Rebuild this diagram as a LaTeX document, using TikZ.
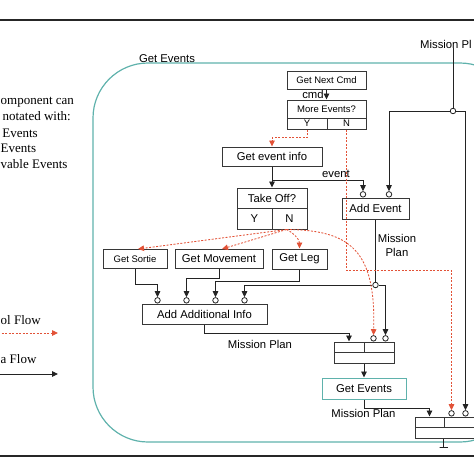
\documentclass[tikz,border=0pt]{standalone}
\usepackage{fontspec}
\setmainfont{Liberation Sans}
\newfontfamily\serifleg{Liberation Serif}
\usetikzlibrary{arrows.meta}
\definecolor{teal1}{RGB}{95,178,172}
\definecolor{ctrlc}{RGB}{226,82,55}
\definecolor{linec}{RGB}{35,35,35}
\definecolor{boxc}{RGB}{55,55,55}
\pgfdeclarelayer{fg}
\pgfsetlayers{main,fg}
\tikzset{
  box/.style={draw=boxc, line width=1pt, inner sep=0pt, font=\fontsize{11.3}{13}\selectfont},
  sbox/.style={box, font=\fontsize{9.5}{11}\selectfont},
  plain/.style={draw=linec, line width=0.9pt},
  data/.style={plain, -{Triangle[length=6pt,width=5.5pt]}},
  ctrl/.style={draw=ctrlc, line width=0.85pt, dash pattern=on 2pt off 1.5pt, -{Triangle[length=6pt,width=5.5pt,fill=ctrlc]}},
  port/.style={circle, draw=linec, line width=0.8pt, fill=white, inner sep=0pt, minimum size=5.5pt, anchor=south},
  junc/.style={circle, draw=linec, line width=0.8pt, fill=white, inner sep=0pt, minimum size=5.5pt},
  lbl/.style={inner sep=0pt, font=\fontsize{11.3}{14}\selectfont},
  leg/.style={inner sep=0pt, font=\serifleg\fontsize{13}{15}\selectfont, anchor=base east},
  legw/.style={leg, anchor=base west},
  rule/.style={draw=black!85, line width=1.4pt},
  frame/.style={draw=teal1, line width=1.2pt, rounded corners=55pt}
}
\begin{document}
\begin{tikzpicture}[x=1pt,y=-1pt]
\useasboundingbox (0,0) rectangle (474,474);
\clip (0,0) rectangle (474,474);

% horizontal rules
\draw[rule] (-5,20) -- (480,20);
\draw[rule] (-5,456) -- (480,456);

% frame
\draw[frame] (93,63) rectangle (515,442);
\node[lbl] (tGE) at (167,59) {Get Events};

% legend
\node[legw] (l1) at (0.5,104) {omponent can};
\node[leg] (l2) at (71,120) {notated with:};
\node[leg] (l3) at (38,137) {Events};
\node[legw] (l4) at (0.5,152) {Events};
\node[legw] (l5) at (0.5,168) {vable Events};
\node[legw] (l6) at (0.5,324) {ol Flow};
\node[legw] (l7) at (0.5,363) {a Flow};
\coordinate (lc1) at (-2,333);
\coordinate (lc2) at (58,333);
\draw[ctrl] (lc1) -- (lc2);
\coordinate (ld1) at (-2,374);
\coordinate (ld2) at (58,374);
\draw[data] (ld1) -- (ld2);

% boxes
\node[sbox, minimum width=79, minimum height=18] (gnc) at (326.5,80) {Get Next Cmd};
\node[sbox, minimum width=79, minimum height=18] (me) at (326.5,109) {More Events?};
\node[sbox, minimum width=40, minimum height=11] (meY) at (307,123.5) {Y};
\node[sbox, minimum width=39, minimum height=11] (meN) at (346.5,123.5) {N};
\node[box, minimum width=100, minimum height=19] (gei) at (272,156.5) {Get event info};
\node[box, minimum width=70, minimum height=20] (to) at (272,198) {Take Off?};
\node[box, minimum width=35, minimum height=21] (toY) at (254.5,218.5) {Y};
\node[box, minimum width=35, minimum height=21] (toN) at (289.5,218.5) {N};
\node[box, minimum width=67, minimum height=21] (ae) at (375.5,208.5) {Add Event};
\node[sbox, minimum width=64, minimum height=19] (gs) at (135,259) {Get Sortie};
\node[box, minimum width=88, minimum height=19] (gm) at (219,259) {Get Movement};
\node[box, minimum width=55, minimum height=20] (gl) at (299.5,259) {Get Leg};
\node[box, minimum width=125, minimum height=20] (aai) at (204.5,314) {Add Additional Info};
\node[box, minimum width=30, minimum height=10] (mA) at (349,347) {};
\node[box, minimum width=30, minimum height=10] (mB) at (379,347) {};
\node[box, minimum width=60, minimum height=11] (mC) at (364,357.5) {};
\node[box, draw=teal1, minimum width=84, minimum height=21] (gev) at (364,388.5) {Get Events};
\node[box, minimum width=29, minimum height=10] (bA) at (429.5,422) {};
\node[box, minimum width=36, minimum height=10] (bB) at (462,422) {};
\node[box, minimum width=65, minimum height=11] (bC) at (447.5,432.5) {};

% labels
\node[lbl] (lcmd) at (313,94.5) {cmd};
\node[lbl] (levent) at (336,174) {event};
\node[lbl, align=center] (lmp1) at (397,245) {Mission\\Plan};
\node[lbl] (lmp2) at (260,344) {Mission Plan};
\node[lbl] (lmp3) at (363.5,413) {Mission Plan};
\node[lbl, anchor=west] (lmpt) at (420,44) {Mission Pl};

% ports and junctions
\begin{pgfonlayer}{fg}
\node[port] (aeP1) at ([xshift=-12.5]ae.north) {};
\node[port] (aeP2) at ([xshift=13.5]ae.north) {};
\node[port] (aa1) at ([xshift=16]aai.north west) {};
\node[port] (aa2) at ([xshift=45]aai.north west) {};
\node[port] (aa3) at ([xshift=74]aai.north west) {};
\node[port] (aa4) at ([xshift=103]aai.north west) {};
\node[port] (mP1) at ([xshift=10]mB.north west) {};
\node[port] (mP2) at ([xshift=22]mB.north west) {};
\node[port] (bP1) at ([xshift=8]bB.north west) {};
\node[port] (bP2) at ([xshift=22]bB.north west) {};
\node[junc] (j1) at (453,111) {};
\node[junc] (j2) at (375.5,285) {};
\end{pgfonlayer}

% data flow
\draw[data] (gnc.south) -- (me.north);
\draw[data] (gei.south) -- (to.north);
\draw[data] (gei.south) ++(0,14) -| (aeP1.north);
\draw[plain] (lmpt.south -| j1) -- (j1);
\draw[data] (j1) -| (aeP2.north);
\draw[data] (j1) -| (bP2.north);
\draw[plain] (ae.south) -- (j2);
\draw[data] (j2) -| (aa4.north);
\draw[data] (j2) -| (mP2.north);
\draw[data] (gs.south) -- ++(0,15) -| (aa1.north);
\draw[data] (gm.south) -- ++(0,9) -| (aa2.north);
\draw[data] (gl.south) -- ++(0,12) -| (aa3.north);
\draw[data] (aai.south) -- ++(0,9) -| (mA.north);
\draw[data] (mC.south) -- (gev.north);
\draw[data] (gev.south) -- ++(0,9) -| (bA.north);
\draw[plain] (bB.south west |- bC.south) -- ++(0,9) -- ++(-4,0) -- ++(8,0);

% control flow
\draw[ctrl] (meY.south) -- ++(0,8) -| (gei.north);
\draw[ctrl] (meN.south) -- ++(0,141) -| (bP1.north);
\draw[ctrl] ([xshift=-3]toN.south) -- ([xshift=3]gs.north);
\draw[ctrl] ([xshift=-3]toN.south) -- ([xshift=3]gm.north);
\draw[ctrl] ([xshift=-3]toN.south) .. controls (294,233) and (299.5,240) .. (gl.north);
\draw[ctrl] ([xshift=-3]toN.south) .. controls (350,230) and (376,250) .. (mP1.north);
\end{tikzpicture}
\end{document}
